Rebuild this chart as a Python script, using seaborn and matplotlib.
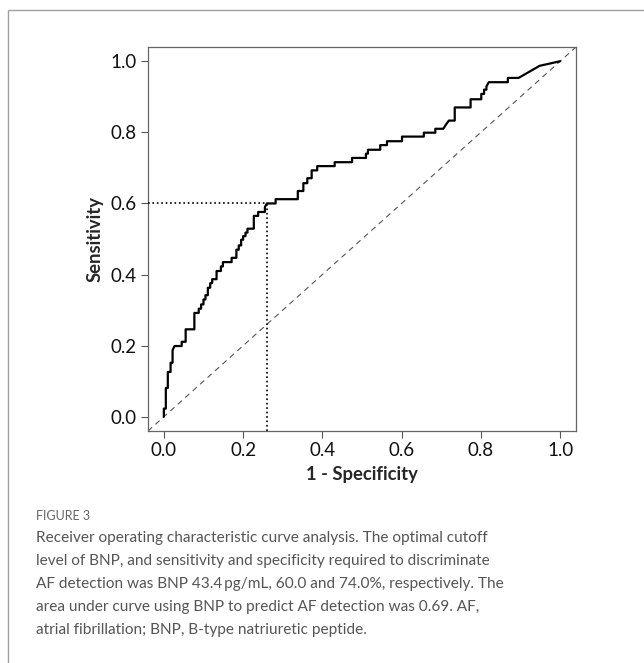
import numpy as np
import pandas as pd
import seaborn as sns
import matplotlib.pyplot as plt
from matplotlib.patches import Rectangle

# ROC curve vertices (1 - specificity, sensitivity)
fpr = [0.000, 0.000, 0.005, 0.005, 0.010, 0.010, 0.017, 0.017, 0.022, 0.022,
       0.027, 0.045, 0.045, 0.055, 0.055, 0.077, 0.077, 0.088, 0.088, 0.094,
       0.094, 0.100, 0.100, 0.105, 0.105, 0.111, 0.111, 0.117, 0.117, 0.122,
       0.122, 0.133, 0.133, 0.144, 0.144, 0.149, 0.149, 0.171, 0.171, 0.183,
       0.183, 0.189, 0.189, 0.195, 0.195, 0.200, 0.200, 0.206, 0.206, 0.211,
       0.211, 0.227, 0.227, 0.238, 0.238, 0.255, 0.255, 0.260, 0.282, 0.282,
       0.338, 0.338, 0.352, 0.352, 0.362, 0.362, 0.373, 0.373, 0.387, 0.387,
       0.431, 0.431, 0.475, 0.475, 0.510, 0.510, 0.515, 0.515, 0.546, 0.546,
       0.563, 0.563, 0.601, 0.601, 0.656, 0.656, 0.685, 0.685, 0.705, 0.712,
       0.719, 0.734, 0.734, 0.774, 0.774, 0.801, 0.801, 0.808, 0.808, 0.814,
       0.814, 0.820, 0.868, 0.868, 0.895, 0.948, 1.000]
tpr = [0.000, 0.023, 0.023, 0.081, 0.081, 0.126, 0.126, 0.152, 0.152, 0.187,
       0.199, 0.199, 0.211, 0.211, 0.246, 0.246, 0.292, 0.292, 0.304, 0.304,
       0.316, 0.316, 0.330, 0.330, 0.342, 0.342, 0.363, 0.363, 0.376, 0.376,
       0.387, 0.387, 0.410, 0.410, 0.423, 0.423, 0.435, 0.435, 0.447, 0.447,
       0.470, 0.470, 0.482, 0.482, 0.498, 0.498, 0.508, 0.508, 0.518, 0.518,
       0.529, 0.529, 0.565, 0.565, 0.576, 0.576, 0.590, 0.600, 0.600, 0.612,
       0.612, 0.635, 0.635, 0.657, 0.657, 0.671, 0.671, 0.693, 0.693, 0.705,
       0.705, 0.716, 0.716, 0.728, 0.728, 0.740, 0.740, 0.751, 0.751, 0.764,
       0.764, 0.775, 0.775, 0.788, 0.788, 0.799, 0.799, 0.810, 0.810, 0.822,
       0.833, 0.833, 0.870, 0.870, 0.893, 0.893, 0.908, 0.908, 0.920, 0.920,
       0.929, 0.941, 0.941, 0.953, 0.953, 0.987, 1.000]

# optimal cutoff: sensitivity 60.0%, specificity 74.0%
cut_fpr = 0.26
cut_tpr = 0.60

ticks = [0.0, 0.2, 0.4, 0.6, 0.8, 1.0]
tick_labels = ['0.0', '0.2', '0.4', '0.6', '0.8', '1.0']

caption_head = "FIGURE 3"
caption_lines = [
    "Receiver operating characteristic curve analysis. The optimal cutoff",
    "level of BNP, and sensitivity and specificity required to discriminate",
    "AF detection was BNP 43.4\u2009pg/mL, 60.0 and 74.0%, respectively. The",
    "area under curve using BNP to predict AF detection was 0.69. AF,",
    "atrial fibrillation; BNP, B-type natriuretic peptide.",
]

sns.set_style('ticks')
plt.rcParams['font.family'] = ['Lato', 'DejaVu Sans']

fig = plt.figure(figsize=(6.44, 6.63), dpi=100)
ax = fig.add_axes([148 / 644, 1 - 431 / 663, 428 / 644, 384 / 663])

df = pd.DataFrame({'fpr': fpr, 'tpr': tpr})
sns.lineplot(data=df, x='fpr', y='tpr', sort=False, estimator=None,
             color='black', lw=1.6, ax=ax, zorder=4)

# chance line
ax.axline((0, 0), (1, 1), color='#555555', lw=0.8, ls=(0, (5, 4)), zorder=2)

# cutoff guides
lo = -0.04
ax.plot([lo, cut_fpr], [cut_tpr, cut_tpr], color='black', lw=1.2, ls=':', zorder=3)
ax.plot([cut_fpr, cut_fpr], [lo, cut_tpr], color='black', lw=1.2, ls=':', zorder=3)

ax.set_xlim(-0.04, 1.04)
ax.set_ylim(-0.04, 1.04)
ax.set_xticks(ticks)
ax.set_xticklabels(tick_labels)
ax.set_yticks(ticks)
ax.set_yticklabels(tick_labels)
ax.tick_params(axis='both', labelsize=13.5, length=5, width=0.8,
               color='#555555', labelcolor='#111111', pad=3)
for s in ax.spines.values():
    s.set_color('#666666')
    s.set_linewidth(0.9)

ax.set_xlabel('1 - Specificity', fontsize=13.3, fontweight='bold', labelpad=5)
ax.set_ylabel('Sensitivity', fontsize=13.3, fontweight='bold', labelpad=5)

# outer frame of the figure panel (right and bottom edges run off the image)
fig.patches.append(Rectangle((8 / 644, -0.05), 1.1, 1 - 10 / 663 + 0.05,
                             transform=fig.transFigure, fill=False,
                             edgecolor='#a0a0a0', lw=1.0))

fig.text(36 / 644, 1 - 516 / 663, caption_head, fontsize=9, color='#666666',
         va='center', ha='left')
for i, line in enumerate(caption_lines):
    fig.text(36 / 644, 1 - (538 + 23 * i) / 663, line, fontsize=11.05,
             color='#555555', va='center', ha='left')

fig.savefig('out.png', dpi=100)
